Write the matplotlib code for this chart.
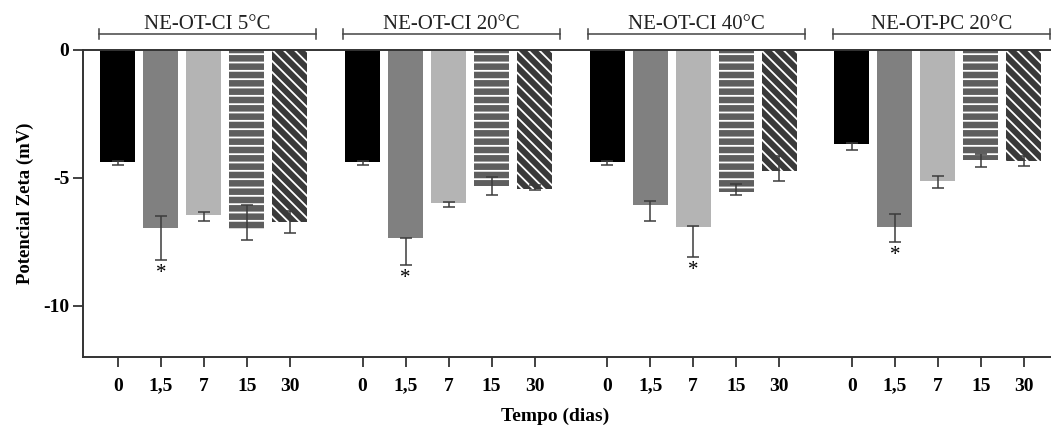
import matplotlib
matplotlib.use("Agg")
import matplotlib.pyplot as plt
from matplotlib.transforms import blended_transform_factory

groups = ["NE-OT-CI 5°C", "NE-OT-CI 20°C", "NE-OT-CI 40°C", "NE-OT-PC 20°C"]
days = ["0", "1,5", "7", "15", "30"]

# zeta potential (mV), one row per group, one value per day
means = [
    [-4.39, -6.96, -6.45, -6.99, -6.74],
    [-4.39, -7.37, -5.99, -5.31, -5.42],
    [-4.40, -6.08, -6.91, -5.57, -4.73],
    [-3.68, -6.94, -5.14, -4.30, -4.34],
]
err_low = [
    [0.10, 1.24, 0.23, 0.43, 0.40],
    [0.10, 1.03, 0.14, 0.37, 0.06],
    [0.09, 0.59, 1.18, 0.09, 0.39],
    [0.23, 0.57, 0.25, 0.28, 0.19],
]
err_up = [
    [0.05, 0.45, 0.11, 0.91, 0.45],
    [0.05, 0.00, 0.04, 0.36, 0.15],
    [0.05, 0.19, 0.03, 0.31, 0.59],
    [0.05, 0.53, 0.22, 0.23, 0.20],
]
signif = [
    [0, 1, 0, 0, 0],
    [0, 1, 0, 0, 0],
    [0, 0, 1, 0, 0],
    [0, 1, 0, 0, 0],
]

colors = ["#000000", "#808080", "#b4b4b4", "#5e5e5e", "#3a3a3a"]
hatches = [None, None, None, "--", "\\\\\\"]

plt.rcParams["font.family"] = ["Liberation Serif", "DejaVu Serif"]
plt.rcParams["hatch.linewidth"] = 1.3

fig = plt.figure(figsize=(10.51, 4.30), dpi=100)
ax = fig.add_axes([0.079, 0.170, 0.921, 0.714])

step, gap = 1.0, 5.69
width = 0.81
tick_pos, tick_lab = [], []
for g, name in enumerate(groups):
    xs = [g * gap + i * step for i in range(len(days))]
    for i, x in enumerate(xs):
        h = hatches[i]
        ax.bar(x, means[g][i], width=width, color=colors[i],
               edgecolor="white" if h else colors[i], linewidth=0,
               hatch=h, zorder=2)
        ax.errorbar(x, means[g][i], yerr=[[err_low[g][i]], [err_up[g][i]]],
                    fmt="none", ecolor="#3c3c3c", elinewidth=1.1,
                    capsize=4, capthick=1.1, zorder=3)
        if signif[g][i]:
            ax.text(x, means[g][i] - err_low[g][i] - 0.15, "*",
                    ha="center", va="top", fontsize=15)
    tick_pos += xs
    tick_lab += days
    # group bracket and title above the plot
    tr = blended_transform_factory(ax.transData, ax.transAxes)
    x0, x1 = xs[0] - 0.45, xs[-1] + 0.6
    ax.plot([x0, x1], [1.052, 1.052], transform=tr, color="#444444",
            lw=1.1, clip_on=False)
    for xe in (x0, x1):
        ax.plot([xe, xe], [1.037, 1.067], transform=tr, color="#444444",
                lw=1.1, clip_on=False)
    ax.text((x0 + x1) / 2, 1.068, name, transform=tr, ha="center",
            va="baseline", fontsize=15, color="#222222")

ax.set_xlim(-0.81, 21.7)
ax.set_ylim(-12, 0)
ax.set_yticks([0, -5, -10])
ax.set_yticklabels(["0", "-5", "-10"])
ax.set_xticks(tick_pos)
ax.set_xticklabels(tick_lab)

for side in ("left", "bottom", "top"):
    ax.spines[side].set_linewidth(1.4)
    ax.spines[side].set_color("#333333")
ax.spines["right"].set_visible(False)

ax.tick_params(axis="x", direction="out", length=7, width=1.3,
               pad=8, labelsize=14, colors="#333333", labelcolor="black")
ax.tick_params(axis="y", direction="out", length=7, width=1.3,
               pad=3, labelsize=14, colors="#333333", labelcolor="black")
for lab in ax.get_xticklabels() + ax.get_yticklabels():
    lab.set_fontweight("bold")

ax.set_ylabel("Potencial Zeta (mV)", fontsize=13.5, fontweight="bold")
ax.yaxis.set_label_coords(-0.051, 0.5)
ax.set_xlabel("Tempo (dias)", fontsize=14, fontweight="bold")
ax.xaxis.set_label_coords(0.488, -0.165)

fig.savefig("out.png", dpi=100)
